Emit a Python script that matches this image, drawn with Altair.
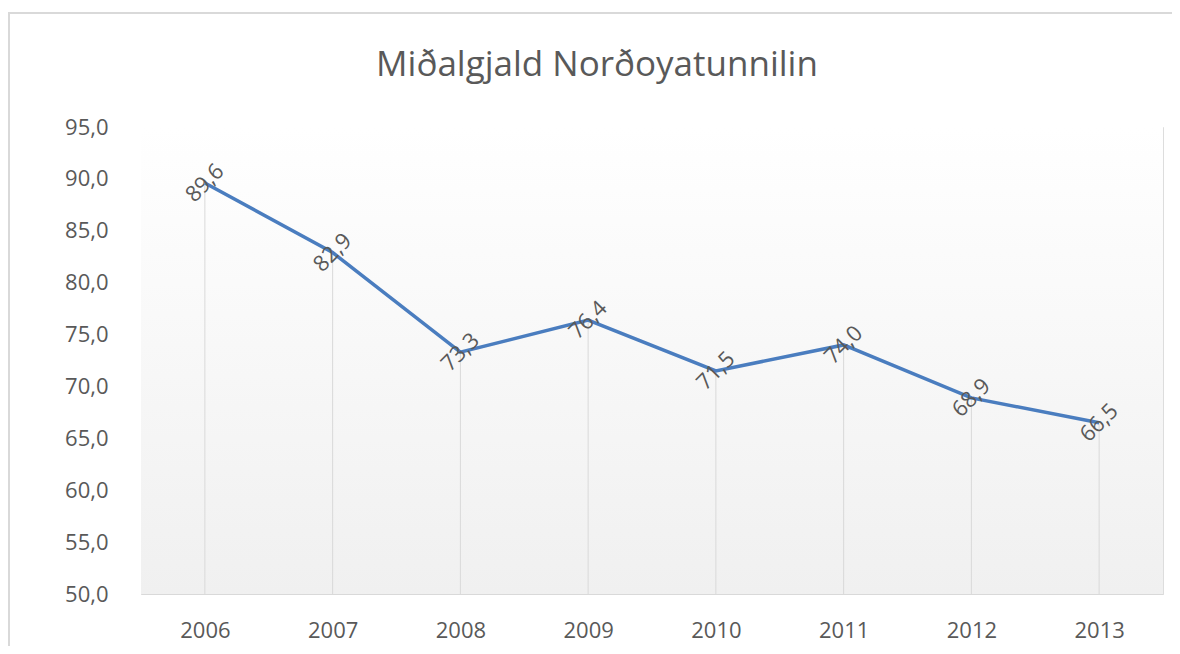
import altair as alt
import pandas as pd

years = ["2006", "2007", "2008", "2009", "2010", "2011", "2012", "2013"]
values = [89.6, 82.9, 73.3, 76.4, 71.5, 74.0, 68.9, 66.5]
y_ticks = [50, 55, 60, 65, 70, 75, 80, 85, 90, 95]
title_text = "Miðalgjald Norðoyatunnilin"

W, H = 1022, 467
FONT = "Open Sans"
GREY = "#595959"

df = pd.DataFrame({"year": years, "value": values})
df["label"] = [f"{v:.1f}".replace(".", ",") for v in values]
df["base"] = y_ticks[0]

x_enc = alt.X(
    "year:N",
    scale=alt.Scale(type="point", padding=0.5),
    axis=alt.Axis(
        title=None, labelAngle=0, ticks=False, domain=True, domainColor="#d9d9d9",
        domainWidth=1, labelPadding=26, labelFontSize=22, labelColor=GREY,
        labelFont=FONT, grid=False,
    ),
)
y_scale = alt.Scale(domain=[y_ticks[0], y_ticks[-1]], nice=False, zero=False)
y_enc = alt.Y(
    "value:Q",
    scale=y_scale,
    axis=alt.Axis(
        title=None, values=y_ticks, ticks=False, domain=False, grid=False,
        labelPadding=33, labelFontSize=22, labelColor=GREY, labelFont=FONT,
        labelExpr="replace(format(datum.value, '.1f'), '.', ',')",
    ),
)

one = pd.DataFrame({"a": [0]})

background = alt.Chart(one).mark_rect(
    color={
        "gradient": "linear", "x1": 0, "y1": 0, "x2": 0, "y2": 1,
        "stops": [{"offset": 0, "color": "#ffffff"}, {"offset": 1, "color": "#f0f0f0"}],
    }
).encode(x=alt.value(0), x2=alt.value(W), y=alt.value(0), y2=alt.value(H))

border_left = alt.Chart(one).mark_rule(color="#d9d9d9", strokeWidth=2).encode(
    x=alt.value(-132), y=alt.value(-114), y2=alt.value(H + 60)
)
border_top = alt.Chart(one).mark_rule(color="#d9d9d9", strokeWidth=2).encode(
    x=alt.value(-133), x2=alt.value(W + 20), y=alt.value(-114)
)

title = alt.Chart(pd.DataFrame({"t": [title_text]})).mark_text(
    font=FONT, fontSize=35, color=GREY, align="center", baseline="middle"
).encode(text="t:N", x=alt.value(456), y=alt.value(-62))

drops = alt.Chart(df).mark_rule(color="#d9d9d9", strokeWidth=1).encode(
    x=x_enc, y=y_enc, y2="base:Q"
)

line = alt.Chart(df).mark_line(color="#4a7dbf", strokeWidth=3.5).encode(x=x_enc, y=y_enc)

labels = alt.Chart(df).mark_text(
    font=FONT, fontSize=22, color=GREY, angle=315, align="center", baseline="middle"
).encode(x=x_enc, y=y_enc, text="label:N")

chart = (
    alt.layer(background, border_left, border_top, title, drops, line, labels)
    .properties(
        width=W, height=H, autosize="none",
        padding={"left": 133, "top": 119, "right": 9, "bottom": 52},
    )
    .configure_view(stroke=None)
    .configure(background="white")
)

chart.save("out.html", embed_options={"renderer": "svg", "actions": False})
